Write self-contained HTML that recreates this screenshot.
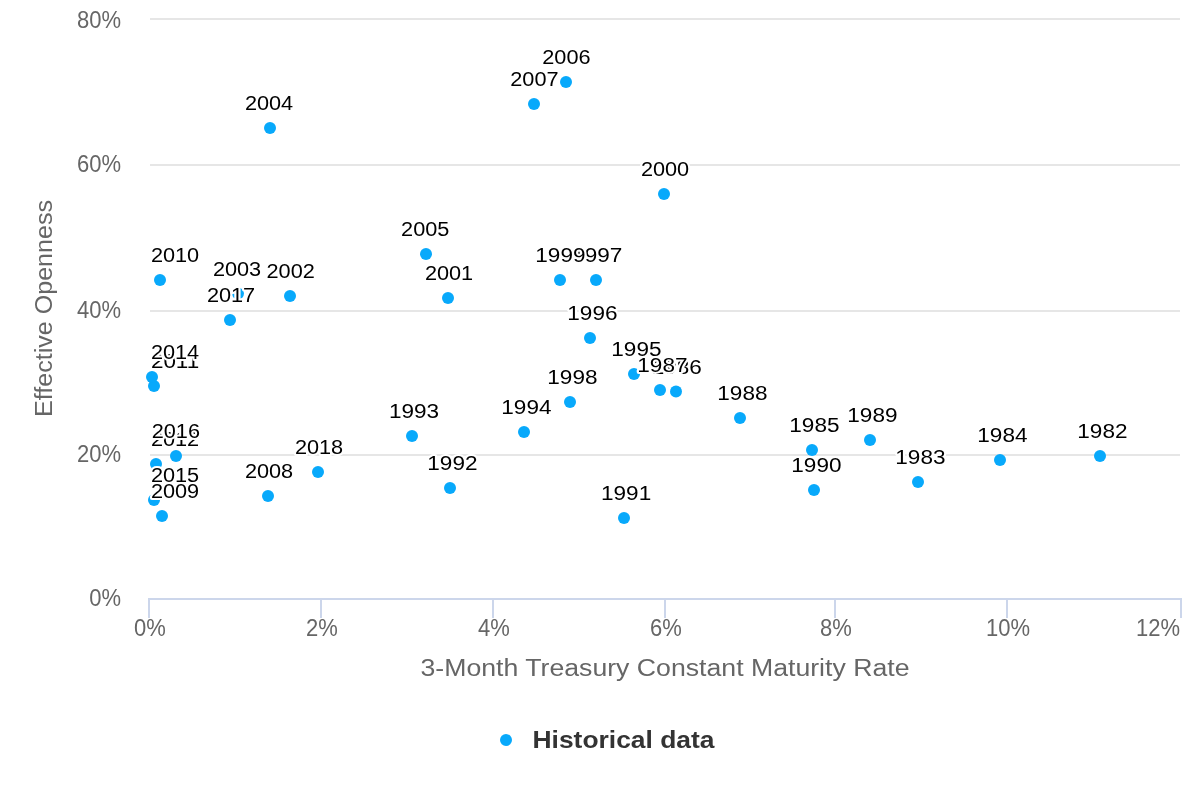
<!DOCTYPE html>
<html><head><meta charset="utf-8"><style>
html,body{margin:0;padding:0;background:#fff;}
svg{display:block;will-change:transform;}
text{font-family:"Liberation Sans",sans-serif;}
</style></head><body>
<svg width="1200" height="800" viewBox="0 0 1200 800">
<rect width="1200" height="800" fill="#fff"/>

<rect x="150" y="18" width="1030" height="2" fill="#e6e6e6"/>
<rect x="150" y="164" width="1030" height="2" fill="#e6e6e6"/>
<rect x="150" y="310" width="1030" height="2" fill="#e6e6e6"/>
<rect x="150" y="454" width="1030" height="2" fill="#e6e6e6"/>
<rect x="148" y="598" width="1034" height="2" fill="#ccd6eb"/>
<rect x="148" y="598" width="2" height="20" fill="#ccd6eb"/>
<rect x="320" y="598" width="2" height="20" fill="#ccd6eb"/>
<rect x="492" y="598" width="2" height="20" fill="#ccd6eb"/>
<rect x="664" y="598" width="2" height="20" fill="#ccd6eb"/>
<rect x="834" y="598" width="2" height="20" fill="#ccd6eb"/>
<rect x="1006" y="598" width="2" height="20" fill="#ccd6eb"/>
<rect x="1180" y="598" width="2" height="20" fill="#ccd6eb"/>
<text x="121" y="28" text-anchor="end" font-size="23" fill="#666" textLength="44.05" lengthAdjust="spacingAndGlyphs">80%</text>
<text x="121" y="172" text-anchor="end" font-size="23" fill="#666" textLength="44.05" lengthAdjust="spacingAndGlyphs">60%</text>
<text x="121" y="318" text-anchor="end" font-size="23" fill="#666" textLength="44.05" lengthAdjust="spacingAndGlyphs">40%</text>
<text x="121" y="462" text-anchor="end" font-size="23" fill="#666" textLength="44.05" lengthAdjust="spacingAndGlyphs">20%</text>
<text x="121" y="606" text-anchor="end" font-size="23" fill="#666" textLength="31.8" lengthAdjust="spacingAndGlyphs">0%</text>
<text x="150" y="636" text-anchor="middle" font-size="23" fill="#666" textLength="31.8" lengthAdjust="spacingAndGlyphs">0%</text>
<text x="322" y="636" text-anchor="middle" font-size="23" fill="#666" textLength="31.8" lengthAdjust="spacingAndGlyphs">2%</text>
<text x="494" y="636" text-anchor="middle" font-size="23" fill="#666" textLength="31.8" lengthAdjust="spacingAndGlyphs">4%</text>
<text x="666" y="636" text-anchor="middle" font-size="23" fill="#666" textLength="31.8" lengthAdjust="spacingAndGlyphs">6%</text>
<text x="836" y="636" text-anchor="middle" font-size="23" fill="#666" textLength="31.8" lengthAdjust="spacingAndGlyphs">8%</text>
<text x="1008" y="636" text-anchor="middle" font-size="23" fill="#666" textLength="44.05" lengthAdjust="spacingAndGlyphs">10%</text>
<text x="1158" y="636" text-anchor="middle" font-size="23" fill="#666" textLength="44.05" lengthAdjust="spacingAndGlyphs">12%</text>
<text x="665" y="676" text-anchor="middle" font-size="23.5" fill="#666" textLength="489" lengthAdjust="spacingAndGlyphs">3-Month Treasury Constant Maturity Rate</text>
<text transform="translate(52,308.5) rotate(-90)" x="0" y="0" text-anchor="middle" font-size="23.5" fill="#666" textLength="217" lengthAdjust="spacingAndGlyphs">Effective Openness</text>
<g fill="#08a9fb">
<circle cx="1100" cy="456" r="6"/>
<circle cx="918" cy="482" r="6"/>
<circle cx="1000" cy="460" r="6"/>
<circle cx="812" cy="450" r="6"/>
<circle cx="676" cy="391.6" r="6"/>
<circle cx="660" cy="390" r="6"/>
<circle cx="740" cy="418" r="6"/>
<circle cx="870" cy="440" r="6"/>
<circle cx="814" cy="490" r="6"/>
<circle cx="624" cy="518" r="6"/>
<circle cx="450" cy="488" r="6"/>
<circle cx="412" cy="436" r="6"/>
<circle cx="524" cy="432" r="6"/>
<circle cx="634" cy="374" r="6"/>
<circle cx="590" cy="338" r="6"/>
<circle cx="596" cy="280" r="6"/>
<circle cx="570" cy="402" r="6"/>
<circle cx="560" cy="280" r="6"/>
<circle cx="664" cy="194" r="6"/>
<circle cx="448" cy="298" r="6"/>
<circle cx="290" cy="296" r="6"/>
<circle cx="238" cy="293.6" r="6"/>
<circle cx="270" cy="128" r="6"/>
<circle cx="426" cy="254" r="6"/>
<circle cx="566" cy="82" r="6"/>
<circle cx="534" cy="104" r="6"/>
<circle cx="268" cy="496" r="6"/>
<circle cx="162" cy="516" r="6"/>
<circle cx="160" cy="280" r="6"/>
<circle cx="154" cy="386" r="6"/>
<circle cx="156" cy="464" r="6"/>
<circle cx="152" cy="377" r="6"/>
<circle cx="154" cy="500" r="6"/>
<circle cx="176" cy="456" r="6"/>
<circle cx="230" cy="320" r="6"/>
<circle cx="318" cy="472" r="6"/>
</g>
<g font-size="20.3" fill="#000" stroke="#fff" stroke-width="4" stroke-linejoin="round" paint-order="stroke">
<text x="1077.3" y="438" textLength="50.2" lengthAdjust="spacingAndGlyphs">1982</text>
<text x="895.3" y="464" textLength="50.2" lengthAdjust="spacingAndGlyphs">1983</text>
<text x="977.3" y="442" textLength="50.2" lengthAdjust="spacingAndGlyphs">1984</text>
<text x="789.3" y="432" textLength="50.2" lengthAdjust="spacingAndGlyphs">1985</text>
<text x="651.7" y="373.6" textLength="50.2" lengthAdjust="spacingAndGlyphs">1986</text>
<text x="637.3" y="372" textLength="50.2" lengthAdjust="spacingAndGlyphs">1987</text>
<text x="717.3" y="400" textLength="50.2" lengthAdjust="spacingAndGlyphs">1988</text>
<text x="847.3" y="422" textLength="50.2" lengthAdjust="spacingAndGlyphs">1989</text>
<text x="791.3" y="472" textLength="50.2" lengthAdjust="spacingAndGlyphs">1990</text>
<text x="601.0" y="500" textLength="50.2" lengthAdjust="spacingAndGlyphs">1991</text>
<text x="427.3" y="470" textLength="50.2" lengthAdjust="spacingAndGlyphs">1992</text>
<text x="388.9" y="418" textLength="50.2" lengthAdjust="spacingAndGlyphs">1993</text>
<text x="501.3" y="414" textLength="50.2" lengthAdjust="spacingAndGlyphs">1994</text>
<text x="611.3" y="356" textLength="50.2" lengthAdjust="spacingAndGlyphs">1995</text>
<text x="567.3" y="320" textLength="50.2" lengthAdjust="spacingAndGlyphs">1996</text>
<text x="572.1" y="262" textLength="50.2" lengthAdjust="spacingAndGlyphs">1997</text>
<text x="547.3" y="384" textLength="50.2" lengthAdjust="spacingAndGlyphs">1998</text>
<text x="535.3" y="262" textLength="50.2" lengthAdjust="spacingAndGlyphs">1999</text>
<text x="640.9" y="176" textLength="48.3" lengthAdjust="spacingAndGlyphs">2000</text>
<text x="424.9" y="280" textLength="48.3" lengthAdjust="spacingAndGlyphs">2001</text>
<text x="266.5" y="278" textLength="48.3" lengthAdjust="spacingAndGlyphs">2002</text>
<text x="212.9" y="275.6" textLength="48.3" lengthAdjust="spacingAndGlyphs">2003</text>
<text x="244.9" y="110" textLength="48.3" lengthAdjust="spacingAndGlyphs">2004</text>
<text x="401.1" y="236" textLength="48.3" lengthAdjust="spacingAndGlyphs">2005</text>
<text x="542.3" y="64" textLength="48.3" lengthAdjust="spacingAndGlyphs">2006</text>
<text x="510.3" y="86" textLength="48.3" lengthAdjust="spacingAndGlyphs">2007</text>
<text x="244.9" y="478" textLength="48.3" lengthAdjust="spacingAndGlyphs">2008</text>
<text x="150.9" y="498" textLength="48.3" lengthAdjust="spacingAndGlyphs">2009</text>
<text x="150.9" y="262" textLength="48.3" lengthAdjust="spacingAndGlyphs">2010</text>
<text x="150.9" y="368" textLength="48.3" lengthAdjust="spacingAndGlyphs">2011</text>
<text x="150.9" y="446" textLength="48.3" lengthAdjust="spacingAndGlyphs">2012</text>
<text x="150.9" y="359" textLength="48.3" lengthAdjust="spacingAndGlyphs">2014</text>
<text x="150.9" y="482" textLength="48.3" lengthAdjust="spacingAndGlyphs">2015</text>
<text x="151.7" y="438" textLength="48.3" lengthAdjust="spacingAndGlyphs">2016</text>
<text x="206.9" y="302" textLength="48.3" lengthAdjust="spacingAndGlyphs">2017</text>
<text x="294.9" y="454" textLength="48.3" lengthAdjust="spacingAndGlyphs">2018</text>
</g>
<circle cx="506" cy="740" r="6" fill="#08a9fb"/>
<text x="532.5" y="748" font-size="24" font-weight="bold" fill="#333" textLength="182" lengthAdjust="spacingAndGlyphs">Historical data</text>
</svg></body></html>
